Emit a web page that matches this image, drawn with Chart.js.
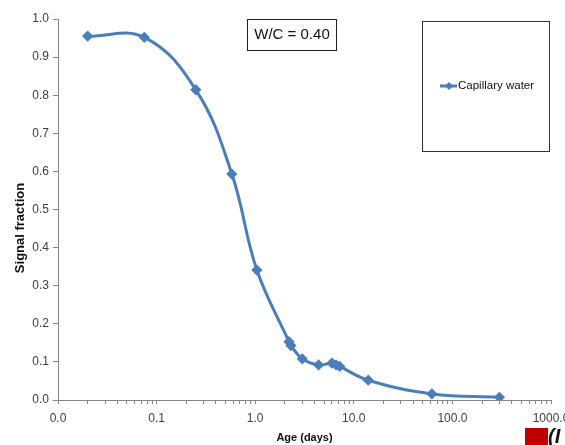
<!DOCTYPE html>
<html>
<head>
<meta charset="utf-8">
<script src="https://cdn.jsdelivr.net/npm/chart.js@4"></script>
<style>
  html, body { margin: 0; padding: 0; overflow: hidden; background: #fff; }
  #wrap { width: 565px; height: 445px; overflow: hidden; }
</style>
</head>
<body>
<div id="wrap">
  <canvas id="ageChart" width="585" height="445"></canvas>
</div>
<script>
// age in days vs. capillary water signal fraction (W/C = 0.40)
const ages = [0.02, 0.075, 0.25, 0.58, 1.04, 2.2, 2.3, 3.0, 4.4, 6.0, 6.6, 7.2, 14, 62, 300];
const signal = [0.955, 0.952, 0.814, 0.593, 0.341, 0.153, 0.143, 0.108, 0.092, 0.097, 0.092, 0.088, 0.052, 0.016, 0.007];

const seriesName = "Capillary water";
const noteText = "W/C = 0.40";

const xDecades = [0.01, 0.1, 1, 10, 100, 1000];
const xTickLabels = ["0.0", "0.1", "1.0", "10.0", "100.0", "1000.0"];
const yTickLabels = ["0.0", "0.1", "0.2", "0.3", "0.4", "0.5", "0.6", "0.7", "0.8", "0.9", "1.0"];

const blue = "#4a7ebb";
const axisGray = "#868686";
const labelGray = "#404040";
const font = "'Liberation Sans', Arial, sans-serif";

// boxes, y title and the corner logo drawn on top of the chart
const extras = {
  id: "extras",
  afterDraw(chart) {
    const ctx = chart.ctx;
    ctx.save();

    // W/C box
    ctx.strokeStyle = "#222";
    ctx.lineWidth = 1;
    ctx.strokeRect(247.5, 19.5, 89, 31);
    ctx.fillStyle = "#111";
    ctx.font = "15px " + font;
    ctx.textAlign = "center";
    ctx.textBaseline = "middle";
    ctx.fillText(noteText, 292, 35);

    // legend box
    ctx.strokeStyle = "#333";
    ctx.strokeRect(422.5, 21.5, 127, 130);
    ctx.strokeStyle = blue;
    ctx.lineWidth = 3;
    ctx.beginPath();
    ctx.moveTo(440, 86);
    ctx.lineTo(457, 86);
    ctx.stroke();
    ctx.fillStyle = blue;
    ctx.beginPath();
    ctx.moveTo(449, 82);
    ctx.lineTo(453, 86);
    ctx.lineTo(449, 90);
    ctx.lineTo(445, 86);
    ctx.closePath();
    ctx.fill();
    ctx.fillStyle = "#111";
    ctx.font = "11.5px " + font;
    ctx.textAlign = "left";
    ctx.fillText(seriesName, 458, 86);

    // y axis title
    ctx.translate(20, 228);
    ctx.rotate(-Math.PI / 2);
    ctx.font = "bold 13px " + font;
    ctx.textAlign = "center";
    ctx.fillStyle = "#111";
    ctx.fillText("Signal fraction", 0, 0);
    ctx.setTransform(1, 0, 0, 1, 0, 0);

    // bit of logo in the corner
    ctx.fillStyle = "#c00000";
    ctx.fillRect(525, 428, 23, 17);
    ctx.fillStyle = "#111";
    ctx.font = "italic bold 20px " + font;
    ctx.textAlign = "left";
    ctx.textBaseline = "top";
    ctx.fillText("(I", 548, 427);

    ctx.restore();
  }
};

new Chart(document.getElementById("ageChart"), {
  type: "line",
  data: {
    datasets: [{
      label: seriesName,
      data: ages.map((a, i) => ({ x: a, y: signal[i] })),
      borderColor: blue,
      backgroundColor: blue,
      borderWidth: 3,
      tension: 0.4,
      pointStyle: "rectRot",
      pointRadius: 3.5,
      pointHoverRadius: 3.5,
      fill: false
    }]
  },
  options: {
    responsive: false,
    animation: false,
    layout: { padding: { top: 19, right: 34, left: 0, bottom: 0 } },
    plugins: {
      legend: { display: false },
      tooltip: { enabled: false }
    },
    scales: {
      x: {
        type: "logarithmic",
        min: 0.01,
        max: 1000,
        afterFit: (scale) => { scale.height = 45; },
        afterBuildTicks: (scale) => {
          const vals = [];
          xDecades.forEach((d, i) => {
            if (i === xDecades.length - 1) { vals.push(d); return; }
            for (let k = 1; k < 10; k++) vals.push(d * k);
          });
          scale.ticks = vals.map(v => ({ value: v }));
        },
        ticks: {
          autoSkip: false,
          maxRotation: 0,
          padding: 7,
          color: labelGray,
          font: { family: font, size: 12 },
          callback: (v) => {
            const i = xDecades.findIndex(d => Math.abs(d - v) / d < 1e-6);
            return i >= 0 ? xTickLabels[i] : "";
          }
        },
        grid: { drawOnChartArea: false, tickLength: 4, color: axisGray },
        border: { color: axisGray },
        title: {
          display: true,
          text: "Age (days)",
          color: "#111",
          font: { family: font, size: 11, weight: "bold" },
          padding: { top: 0, bottom: 0 }
        }
      },
      y: {
        min: 0,
        max: 1,
        afterFit: (scale) => { scale.width = 58; },
        ticks: {
          stepSize: 0.1,
          padding: 4,
          color: labelGray,
          font: { family: font, size: 12 },
          callback: (v) => yTickLabels[Math.round(v * 10)]
        },
        grid: { drawOnChartArea: false, tickLength: 5, color: axisGray },
        border: { color: axisGray }
      }
    }
  },
  plugins: [extras]
});
</script>
</body>
</html>
